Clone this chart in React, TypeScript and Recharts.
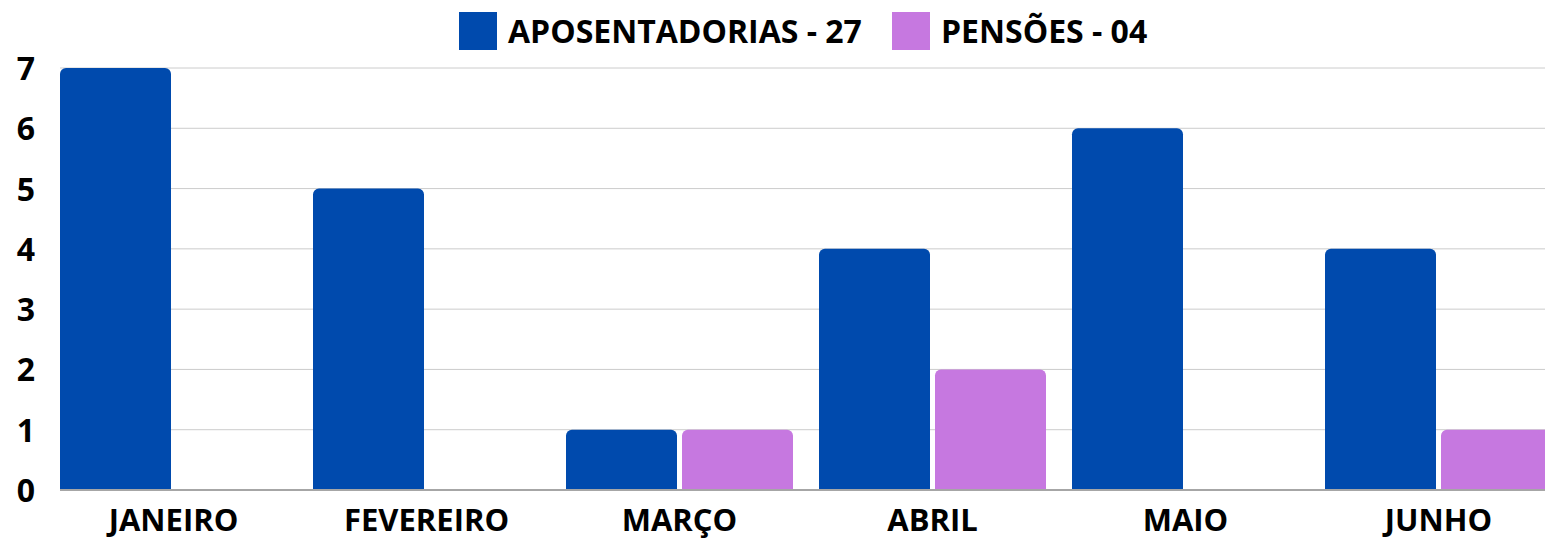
import { BarChart, Bar, XAxis, YAxis, CartesianGrid, Legend } from "recharts"

const months = ["JANEIRO", "FEVEREIRO", "MARÇO", "ABRIL", "MAIO", "JUNHO"]
const aposentadorias = [7, 5, 1, 4, 6, 4]
const pensoes = [0, 0, 1, 2, 0, 1]
const yTicks = [0, 1, 2, 3, 4, 5, 6, 7]
const seriesNames = ["APOSENTADORIAS - 27", "PENSÕES - 04"]

const data = months.map((m, i) => ({ month: m, apos: aposentadorias[i], pens: pensoes[i] }))

const BLUE = "#004aad"
const PINK = "#c678e0"
const FONT = "'Open Sans', sans-serif"

function XTick({ x, y, payload }: any) {
  return (
    <text
      x={x}
      y={y + 41}
      textAnchor="middle"
      fontFamily={FONT}
      fontWeight={700}
      fontSize={31}
      fill="#000"
    >
      {payload.value}
    </text>
  )
}

function YTick({ x, y, payload }: any) {
  return (
    <text
      x={x}
      y={y + 12}
      textAnchor="end"
      fontFamily={FONT}
      fontWeight={700}
      fontSize={32}
      fill="#000"
    >
      {payload.value}
    </text>
  )
}

function LegendContent({ payload }: any) {
  const offsets = [0, 433]
  return (
    <div style={{ position: "relative", height: 40 }}>
      {(payload || []).map((p: any, i: number) => (
        <div key={p.value} style={{ position: "absolute", left: offsets[i], top: 0, height: 38 }}>
          <span
            style={{ position: "absolute", left: 0, top: 0, width: 38, height: 38, background: p.color }}
          />
          <span
            style={{
              position: "absolute",
              left: 49,
              top: -3,
              whiteSpace: "nowrap",
              fontFamily: FONT,
              fontWeight: 700,
              fontSize: 32,
              color: "#000",
            }}
          >
            {p.value}
          </span>
        </div>
      ))}
    </div>
  )
}

export default function App() {
  return (
    <div
      style={{
        position: "fixed",
        left: 0,
        top: 0,
        width: 1545,
        height: 541,
        overflow: "hidden",
        background: "#fff",
      }}
    >
      <BarChart
        width={1565}
        height={541}
        data={data}
        margin={{ top: 68, right: 0, left: 0, bottom: 0 }}
        barCategoryGap={13}
        barGap={5}
      >
        <CartesianGrid vertical={false} stroke="#cccccc" />
        <XAxis
          dataKey="month"
          height={51}
          padding={{ left: -13, right: 0 }}
          tickLine={false}
          tickSize={0}
          tickMargin={0}
          axisLine={{ stroke: "#a6a6a6", strokeWidth: 2 }}
          tick={<XTick />}
          interval={0}
        />
        <YAxis
          width={60}
          domain={[0, 7]}
          ticks={yTicks}
          axisLine={false}
          tickLine={false}
          tickSize={0}
          tickMargin={25}
          tick={<YTick />}
        />
        <Legend
          layout="horizontal"
          verticalAlign="middle"
          align="center"
          wrapperStyle={{ top: 12, left: 459, width: 760 }}
          content={<LegendContent />}
        />
        <Bar dataKey="apos" name={seriesNames[0]} fill={BLUE} radius={[6, 6, 0, 0]} isAnimationActive={false} />
        <Bar dataKey="pens" name={seriesNames[1]} fill={PINK} radius={[6, 6, 0, 0]} isAnimationActive={false} />
      </BarChart>
    </div>
  )
}
